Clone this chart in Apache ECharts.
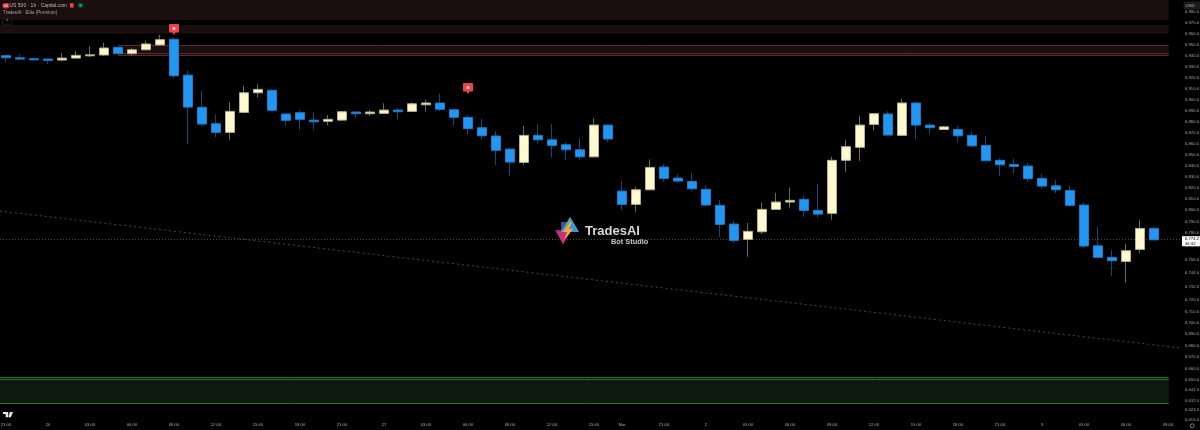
<!DOCTYPE html>
<html><head><meta charset="utf-8">
<style>html,body{margin:0;padding:0;background:#000}#c{width:1200px;height:430px}</style>
<script src="https://cdn.jsdelivr.net/npm/echarts@6/dist/echarts.min.js"></script>
</head><body><div id="c"></div>
<script>
const opens=[6939.8,6937.9,6937.0,6936.7,6935.8,6937.6,6939.7,6940.4,6947.4,6941.6,6945.2,6949.6,6954.8,6922.1,6892.8,6877.9,6870.1,6888.2,6906.0,6908.2,6886.7,6887.9,6881.2,6880.1,6881.2,6888.5,6887.0,6887.3,6890.3,6889.1,6895.1,6896.7,6890.6,6883.7,6874.3,6866.8,6855.0,6843.0,6867.4,6863.4,6858.9,6854.4,6848.0,6876.7,6817.2,6805.3,6818.4,6838.8,6828.9,6825.9,6818.8,6804.4,6787.7,6774.0,6780.8,6800.8,6807.4,6809.8,6799.9,6797.3,6844.9,6856.6,6877.3,6886.7,6867.4,6896.7,6876.7,6872.7,6872.7,6867.4,6858.3,6844.9,6841.2,6839.7,6828.6,6821.9,6817.8,6804.7,6768.3,6758.0,6754.4,6765.1,6783.8];
const closes=[6937.9,6936.7,6936.0,6935.5,6937.6,6940.1,6940.6,6946.8,6941.6,6945.2,6950.5,6954.4,6921.5,6893.0,6877.6,6870.1,6889.1,6906.0,6909.1,6890.0,6881.0,6881.9,6879.7,6881.9,6888.8,6887.0,6888.5,6890.3,6888.8,6896.0,6896.7,6891.0,6883.7,6873.4,6867.0,6853.9,6843.3,6867.4,6863.4,6858.3,6854.4,6848.0,6876.7,6864.1,6805.3,6818.4,6838.5,6828.6,6826.2,6819.3,6804.7,6787.4,6773.1,6781.2,6800.8,6807.4,6808.9,6799.9,6796.6,6844.9,6857.2,6876.7,6887.0,6867.7,6896.7,6876.7,6874.3,6875.1,6867.0,6857.9,6844.5,6840.9,6839.4,6828.3,6821.7,6818.4,6804.4,6768.1,6758.0,6755.0,6763.9,6783.8,6773.6];
const lows=[6934.3,6936.4,6935.8,6932.1,6935.1,6937.3,6938.5,6939.7,6941.3,6940.4,6945.0,6948.9,6919.4,6859.5,6875.8,6865.9,6863.4,6887.3,6901.8,6889.7,6876.1,6872.2,6872.2,6876.5,6881.0,6883.1,6884.9,6886.7,6881.9,6888.8,6888.8,6889.4,6876.1,6867.7,6863.2,6840.6,6830.7,6840.6,6859.8,6847.5,6845.1,6845.1,6847.7,6861.3,6800.2,6798.7,6818.1,6825.5,6825.9,6817.0,6804.0,6776.3,6771.0,6758.5,6778.7,6800.8,6801.7,6794.2,6793.3,6791.5,6834.6,6844.2,6871.9,6867.4,6866.8,6863.8,6868.6,6872.2,6861.0,6856.6,6844.2,6830.7,6832.8,6825.5,6819.6,6815.4,6803.5,6766.5,6757.7,6741.4,6735.4,6762.1,6773.6];
const highs=[6940.4,6941.3,6938.5,6937.1,6942.2,6944.0,6948.6,6951.7,6947.7,6947.0,6953.5,6958.8,6956.6,6926.1,6907.3,6886.4,6897.6,6912.4,6913.7,6909.1,6887.3,6890.3,6888.2,6885.8,6889.1,6888.8,6890.6,6896.4,6892.1,6897.3,6899.7,6905.1,6891.0,6885.8,6882.4,6871.3,6856.2,6875.8,6877.6,6877.6,6861.3,6865.0,6883.1,6877.0,6826.5,6820.6,6845.7,6841.5,6832.5,6833.4,6822.4,6809.2,6790.6,6788.8,6807.1,6815.7,6820.6,6813.0,6823.9,6848.0,6863.2,6884.9,6887.6,6889.1,6900.6,6897.9,6878.3,6875.8,6876.1,6870.7,6866.3,6846.6,6846.0,6842.2,6832.5,6827.4,6821.6,6807.1,6785.0,6764.5,6770.1,6791.3,6785.3];
const timeTickIndex=[0,3,6,9,12,15,18,21,24,27,30,33,36,39,42,44,47,50,53,56,59,62,65,68,71,74,77,80,83];
const timeTickNames=['21:00','26','03:00','06:00','09:00','12:00','15:00','18:00','21:00','27','03:00','06:00','09:00','12:00','15:00','Mar','21:00','2','03:00','06:00','09:00','12:00','15:00','18:00','21:00','3','03:00','06:00','09:00'];
const priceTicks=[6980,6970,6960,6950,6940,6930,6920,6910,6900,6890,6880,6870,6860,6850,6840,6830,6820,6810,6800,6790,6780,6768,6756,6744,6732,6720,6710,6700,6690,6680,6670,6660,6650,6641,6632,6623.5,6615];
const priceMin=6606.2, priceMax=6990.84;
const xStart=-0.4286, xEnd=84, zoneEnd=83.05;
const lastPrice=6774.2, countdown='46:32';
const signalIndex=[12,33], signalPrice=[6963.7,6909.8];
const trendX=[xStart,xEnd], trendY=[6799.3,6677.8];
const redZones=[[6990.84,6972.45],[6967.85,6960.07]];
const redZone3=[6949.3,6939.85], redZone3Start=8, redLines=[6949.3,6941.85,6939.85];
const greenZone=[6652.4,6629.7], greenLines=[6652.4,6650.4,6629.7];

const wicks=opens.map((o,i)=>[i,o,closes[i],lows[i],highs[i]]);
const bodies=opens.map((o,i)=>[i,o,closes[i],Math.min(o,closes[i]),Math.max(o,closes[i])]);
const chart=echarts.init(document.getElementById('c'),null,{renderer:'canvas'});
const FONT='"Liberation Sans",Arial,sans-serif';
const txt=(x,y,t,fs,fill,w,align)=>({type:'text',x,y,z:50,silent:true,style:{text:t,fontSize:fs,fontFamily:FONT,fill,fontWeight:w||'normal',align:align||'left',verticalAlign:'middle'}});
const poly=(pts,fill,op)=>({type:'polygon',z:40,silent:true,shape:{points:pts},style:{fill,opacity:op==null?1:op}});
chart.setOption({
 animation:false,backgroundColor:'#000',
 grid:{left:0,top:0,width:1182,height:430,containLabel:false,outerBoundsMode:'none'},
 xAxis:{type:'value',containShape:false,min:xStart,max:xEnd,splitLine:{show:false},axisLine:{show:false},axisTick:{show:false},
  axisLabel:{inside:true,margin:3,fontSize:4.2,color:'#a8a8a8',fontFamily:FONT,hideOverlap:false,showMinLabel:true,showMaxLabel:true,customValues:timeTickIndex,
   formatter:v=>timeTickNames[timeTickIndex.indexOf(v)]||''}},
 yAxis:{type:'log',logBase:10,position:'right',min:priceMin,max:priceMax,splitLine:{show:false},axisLine:{show:false},axisTick:{show:false},
  axisLabel:{margin:3,fontSize:4.2,color:'#a8a8a8',fontFamily:FONT,hideOverlap:false,customValues:priceTicks,
   formatter:v=>Number(v).toLocaleString('en-US',{minimumFractionDigits:1,maximumFractionDigits:1})}},
 series:[
  {name:'zones',type:'line',z:1,silent:true,symbol:'none',data:[[trendX[0],trendY[0]],[trendX[1],trendY[1]]],
   lineStyle:{color:'#1d5a4c',width:1,type:[2,3]},
   markArea:{silent:true,z:1,data:[
     [{coord:[xStart,redZones[0][0]],itemStyle:{color:'#1a0e0e'}},{coord:[zoneEnd,redZones[0][1]]}],
     [{coord:[xStart,redZones[1][0]],itemStyle:{color:'#1a0e0e'}},{coord:[zoneEnd,redZones[1][1]]}],
     [{coord:[redZone3Start,redZone3[0]],itemStyle:{color:'#1a0e0e'}},{coord:[zoneEnd,redZone3[1]]}],
     [{coord:[xStart,greenZone[0]],itemStyle:{color:'#0e1a10'}},{coord:[zoneEnd,greenZone[1]]}]
   ]},
   markLine:{silent:true,z:1,symbol:'none',label:{show:false},data:[
     ...redLines.map(v=>[{coord:[redZone3Start,v],lineStyle:{color:'#5c2a2a',width:1,type:'solid'}},{coord:[zoneEnd,v]}]),
     ...greenLines.map(v=>[{coord:[xStart,v],lineStyle:{color:'#2f6e2f',width:1,type:'solid'}},{coord:[zoneEnd,v]}]),
     {yAxis:lastPrice,lineStyle:{color:'#4a4a4a',width:1,type:[1,2]},
      label:{show:true,position:'end',distance:0,offset:[0,2],formatter:()=>lastPrice.toLocaleString('en-US',{minimumFractionDigits:1})+'\n'+countdown,
       backgroundColor:'#fff',color:'#000',fontSize:4.2,lineHeight:5,padding:[0,1,0,3],fontFamily:FONT,align:'left',width:14}}
   ]}},
  {name:'wicks',type:'candlestick',z:2,silent:true,barWidth:1,encode:{x:0,y:[1,2,3,4]},data:wicks,
   itemStyle:{color:'#6d6b52',color0:'#0f4a7a',borderColor:'#6d6b52',borderColor0:'#0f4a7a',borderWidth:1}},
  {name:'bodies',type:'candlestick',z:3,silent:true,barWidth:10,encode:{x:0,y:[1,2,3,4]},data:bodies,
   itemStyle:{color:'#fff9cf',color0:'#2196f3',borderColor:'#b4b08c',borderColor0:'#1c7cc8',borderWidth:1}},
  {name:'signals',type:'scatter',z:5,silent:true,symbol:'path://M1 0H9Q10 0 10 1V7.5Q10 8.5 9 8.5H6.5L5 11L3.5 8.5H1Q0 8.5 0 7.5V1Q0 0 1 0Z',symbolSize:[10,11],
   data:signalIndex.map((x,i)=>[x,signalPrice[i]]),itemStyle:{color:'#f0444c',opacity:1}},
  {name:'signalDots',type:'scatter',z:6,silent:true,symbol:'rect',symbolSize:2.5,symbolOffset:[0,-1],
   data:signalIndex.map((x,i)=>[x,signalPrice[i]]),itemStyle:{color:'#fff',opacity:.9}}
 ],
 graphic:[
  {type:'rect',z:45,silent:true,shape:{x:2.5,y:3,width:7,height:5.5,r:2.7},style:{fill:'#d8303f'}},
  txt(3.5,5.8,'500',2.6,'#fff'),
  txt(9.5,5.6,'US 500 · 1h · Capital.com',5,'#b8b8b8'),
  {type:'rect',z:45,silent:true,shape:{x:70,y:3.2,width:3.6,height:4.4},style:{fill:'#ee4444'}},
  {type:'circle',z:45,silent:true,shape:{cx:80.5,cy:5.3,r:3},style:{fill:'#0a3d34'}},
  {type:'circle',z:46,silent:true,shape:{cx:80.5,cy:5.3,r:1.4},style:{fill:'#12a58a'}},
  txt(3,13,'TradesAI · Elite (Premium)',4.6,'#a0a0a0'),
  {type:'rect',z:45,silent:true,shape:{x:2.5,y:18.5,width:9.5,height:6.5,r:1},style:{fill:'#060606',stroke:'#2c2c2c',lineWidth:.6}},
  txt(7.2,21.8,'^',4.5,'#bbb','normal','center'),
  {type:'rect',z:45,silent:true,shape:{x:1183.5,y:1.5,width:17,height:8,r:2},style:{fill:'#1b1b1b'}},
  txt(1185.5,5.6,'USD',4.4,'#b8b8b8'),
  {type:'circle',z:45,silent:true,shape:{cx:1192.2,cy:425.7,r:1.9},style:{fill:'none',stroke:'#aaa',lineWidth:.7}},
  poly([[3,412],[8.3,412],[8.3,417.3],[5.6,417.3],[5.6,414],[3,414]],'#e8e8e8'),
  poly([[9.8,412],[13,412],[10.8,417.3],[8.6,417.3]],'#e8e8e8'),
  // watermark
  poly([[555,230],[572,230],[563,244]],'#8f2fa0'),
  poly([[563,244],[556.5,232],[569,232]],'#c92f72'),
  poly([[561,222],[572,222],[572,232],[561,232]],'#6b3fb5',.9),
  poly([[570,217],[579,232],[561,232]],'#3fb69a'),
  poly([[570,217],[579,232],[570,232]],'#3d95d6'),
  poly([[570,222],[563,232],[567,232],[564,240],[573,229],[569,229],[572,222]],'#f6a63c'),
  txt(585,231,'TradesAI',13,'#d6d6d6','bold'),
  txt(611,241.5,'Bot Studio',7.4,'#c6c6c6','bold')
 ]
});
</script></body></html>
